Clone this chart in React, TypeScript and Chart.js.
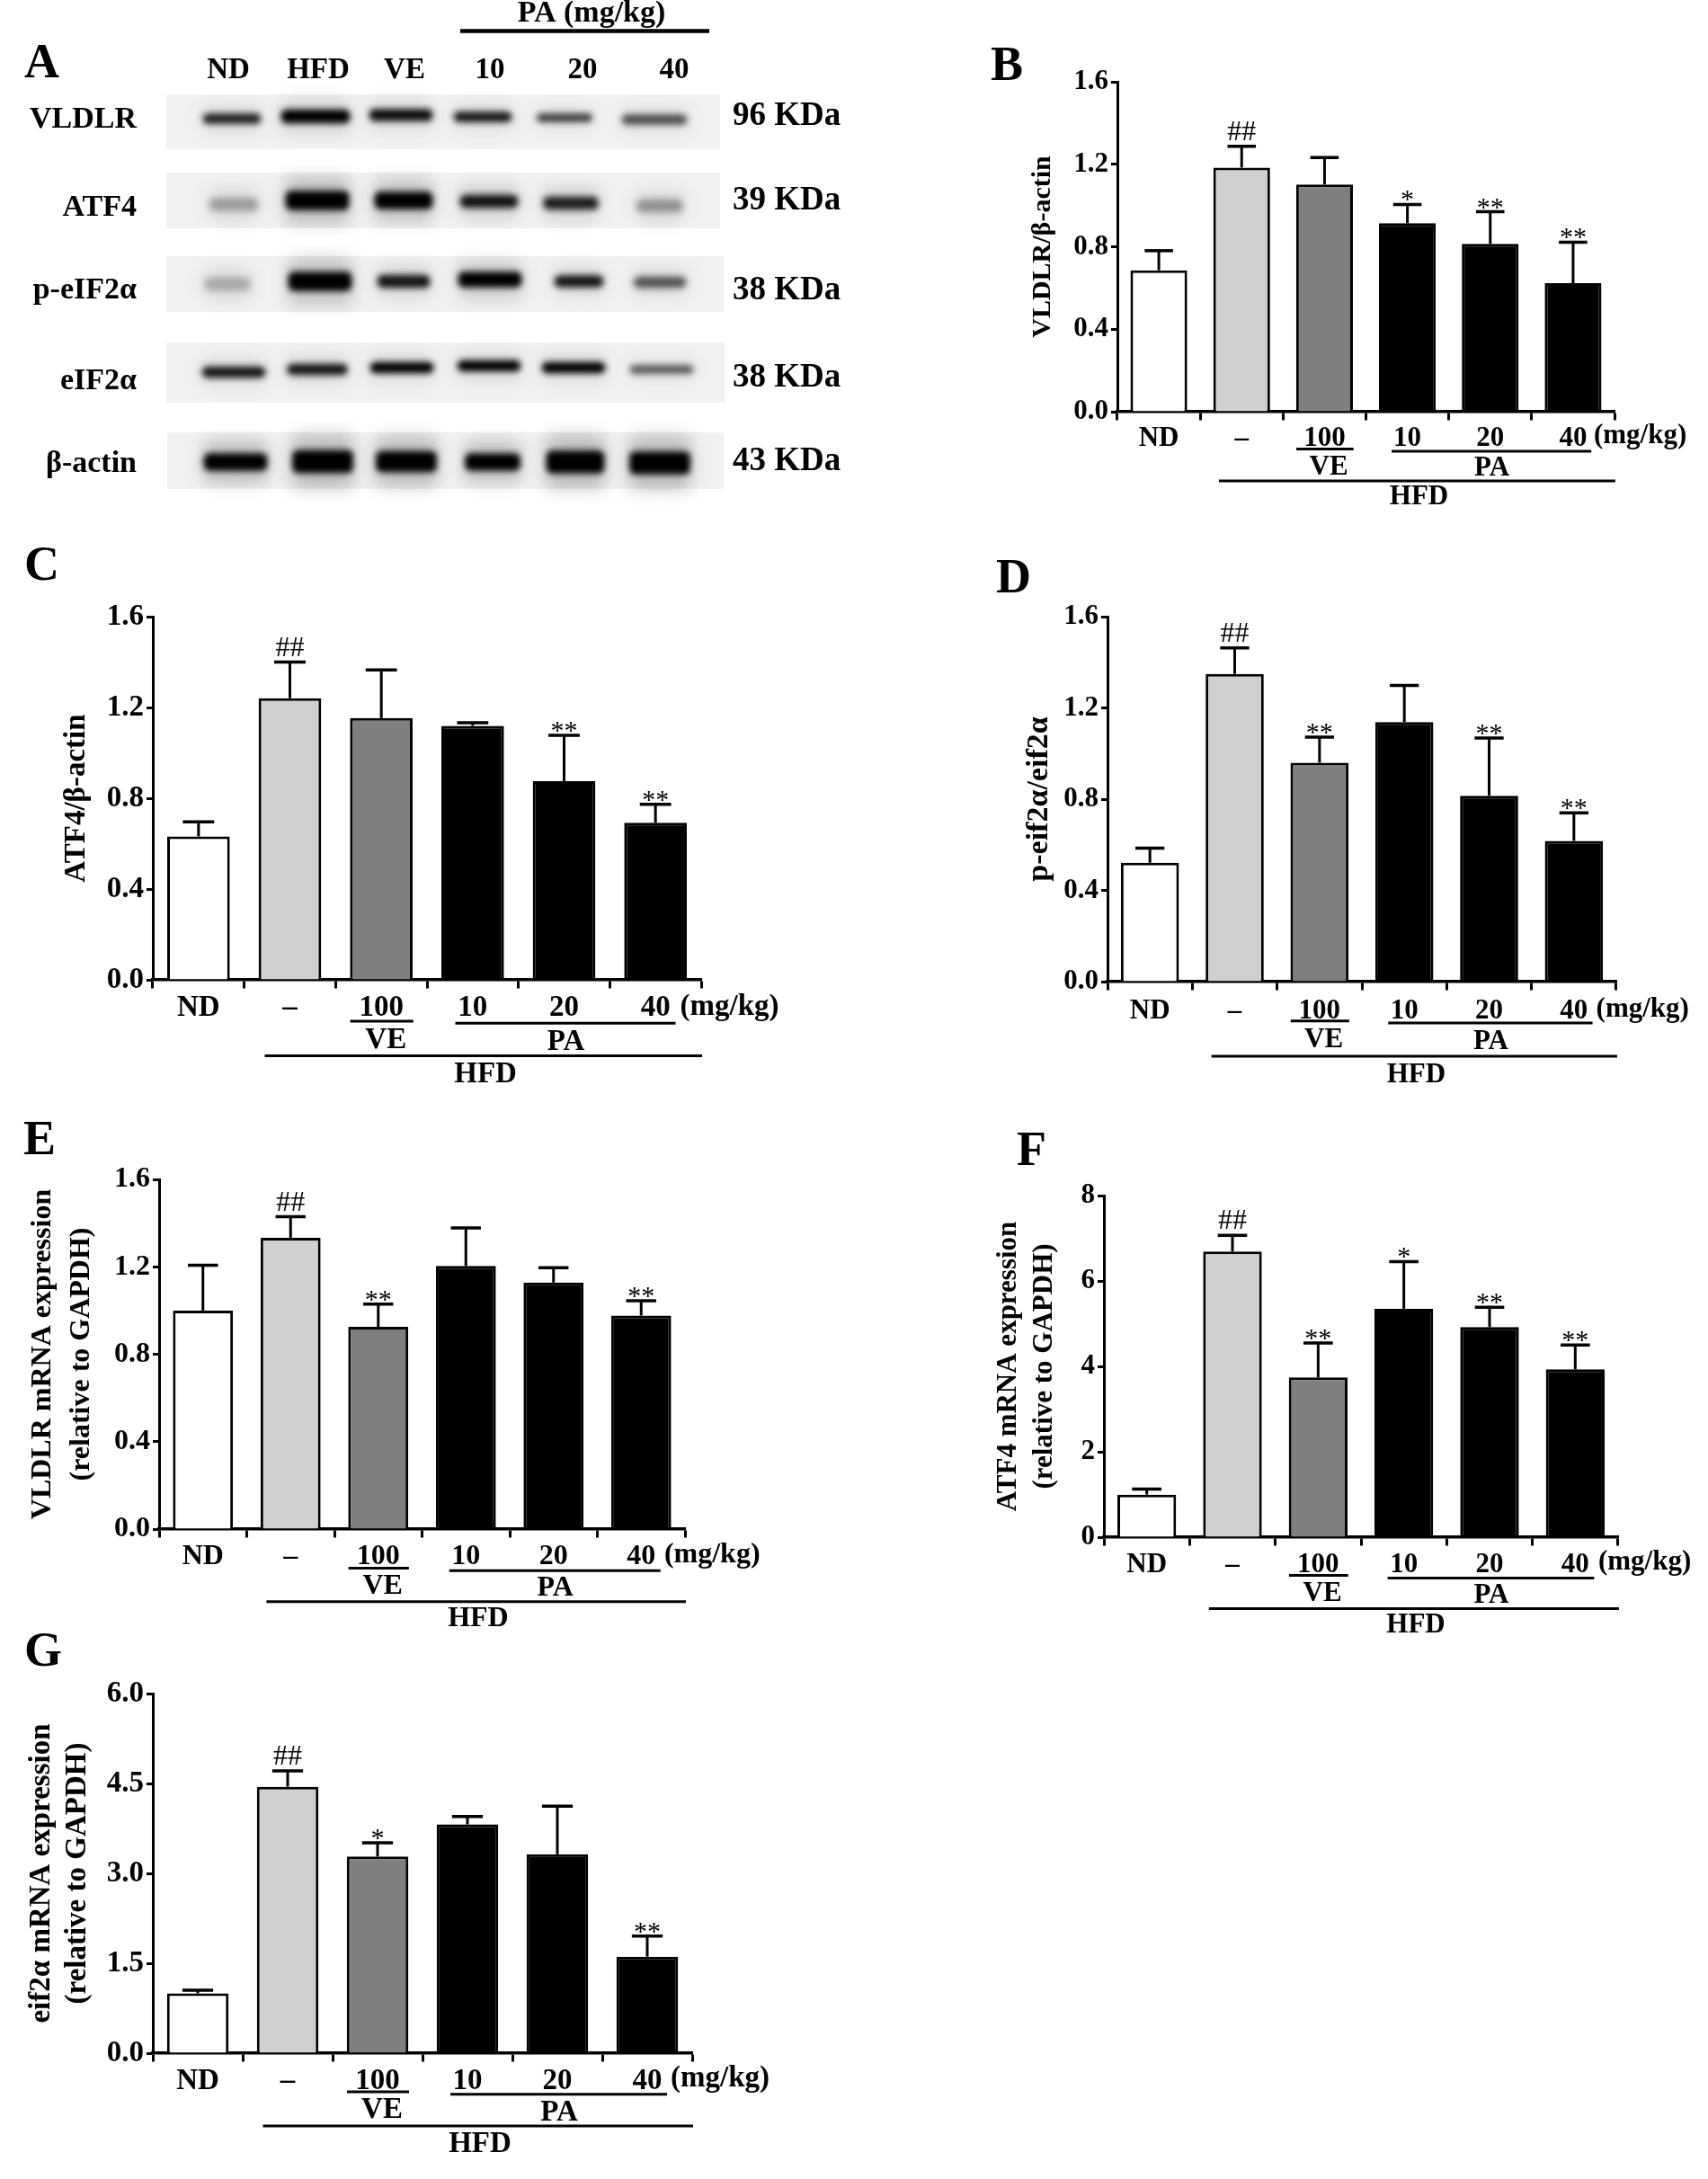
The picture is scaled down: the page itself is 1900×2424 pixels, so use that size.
import React, { useEffect, useRef } from "react";
import { Chart, registerables } from "chart.js";

Chart.register(...registerables);

const SERIF = '"Liberation Serif", "Times New Roman", serif';

// ---------- shared categories ----------
const groupLabels = ["ND", "–", "100", "10", "20", "40"];
const barFills = ["#ffffff", "#d0d0d0", "#7f7f7f", "#000000", "#000000", "#000000"];

// ---------- bar panels: means and upper error-bar ends ----------
const vldlrProtein = [0.686, 1.184, 1.102, 0.914, 0.814, 0.623];
const vldlrProteinTop = [0.781, 1.287, 1.233, 1.005, 0.97, 0.822];
const vldlrProteinSig = ["", "##", "", "*", "**", "**"];

const atf4Protein = [0.632, 1.241, 1.153, 1.119, 0.875, 0.692];
const atf4ProteinTop = [0.696, 1.4, 1.365, 1.133, 1.077, 0.773];
const atf4ProteinSig = ["", "##", "", "", "**", "**"];

const peif2Ratio = [0.521, 1.349, 0.96, 1.138, 0.815, 0.617];
const peif2RatioTop = [0.585, 1.463, 1.072, 1.299, 1.068, 0.74];
const peif2RatioSig = ["", "##", "**", "", "**", "**"];

const vldlrMrna = [1.0, 1.333, 0.925, 1.204, 1.128, 0.977];
const vldlrMrnaTop = [1.207, 1.429, 1.029, 1.378, 1.196, 1.045];
const vldlrMrnaSig = ["", "##", "**", "", "", "**"];

const atf4Mrna = [0.997, 6.69, 3.74, 5.35, 4.92, 3.93];
const atf4MrnaTop = [1.125, 7.07, 4.55, 6.455, 5.385, 4.5];
const atf4MrnaSig = ["", "##", "**", "*", "**", "**"];

const eif2Mrna = [0.998, 4.445, 3.28, 3.817, 3.318, 1.609];
const eif2MrnaTop = [1.051, 4.71, 3.51, 3.95, 4.122, 1.955];
const eif2MrnaSig = ["", "##", "*", "", "", "**"];

// ---------- blot panel: band centre x, centre y, width, height, darkness ----------
const blotRows = ["VLDLR", "ATF4", "p-eIF2α", "eIF2α", "β-actin"];
const blotWeights = ["96 KDa", "39 KDa", "38 KDa", "38 KDa", "43 KDa"];
const blotLanes = ["ND", "HFD", "VE", "10", "20", "40"];
const blotLaneX = [254, 354, 450, 545, 648, 750];
const blotRowBaseline = [142, 240, 332, 433, 525];
const blotWeightBaseline = [139, 233, 333, 430, 523];
const bandX = [
  [258, 351, 446, 537, 628, 728],
  [260, 353, 449, 544, 635, 734],
  [253, 356, 449, 545, 644, 734],
  [260, 353, 447, 544, 638, 736],
  [262, 359, 452, 548, 640, 734],
];
const bandY = [
  [132, 129.5, 128, 130, 131, 133],
  [227.5, 223, 223, 224, 226, 229],
  [316, 313, 313, 311, 313, 314],
  [414, 411, 409, 407, 409, 411],
  [514, 513.5, 513.5, 514, 514, 515],
];
const bandW = [
  [64, 76, 70, 64, 61, 72],
  [54, 70, 64, 64, 61, 51],
  [51, 70, 58, 70, 54, 58],
  [70, 67, 70, 70, 70, 70],
  [70, 67, 67, 61, 64, 67],
];
const bandH = [
  [11, 15, 13, 11, 9, 11],
  [14, 21, 19, 14, 14, 14],
  [14, 21, 14, 17, 13, 12],
  [12, 12, 12, 12, 12, 9],
  [19, 25, 23, 19, 25, 25],
];
const bandDark = [
  [0.85, 1, 0.95, 0.9, 0.75, 0.65],
  [0.28, 1, 1, 0.9, 0.85, 0.32],
  [0.22, 1, 0.9, 1, 0.9, 0.62],
  [0.9, 0.9, 1, 1, 1, 0.62],
  [1, 1, 1, 1, 1, 1],
];
const bandHalo = [
  [0.1, 0.12, 0.1, 0.1, 0.08, 0.08],
  [0.1, 0.22, 0.2, 0.16, 0.14, 0.1],
  [0.1, 0.2, 0.12, 0.16, 0.1, 0.1],
  [0.1, 0.1, 0.1, 0.1, 0.1, 0.08],
  [0.22, 0.22, 0.22, 0.2, 0.22, 0.22],
];
const membranes = [
  [185, 801, 105, 166],
  [185, 801, 192, 254],
  [185, 805, 285, 347],
  [185, 806, 381, 448],
  [186, 805, 481, 544],
];

// ---------- bracket positions, in units of the category axis ----------
const veBracket = [1.66, 2.35];
const paBracket = [2.81, 5.22];
const hfdBracket = [0.725, 5.51];

interface PanelCfg {
  letter: string;
  letterPos: [number, number];
  box: [number, number, number, number];
  area: [number, number, number, number];
  values: number[];
  tops: number[];
  sig: string[];
  maxY: number;
  stepY: number;
  decimals: number;
  title: string | string[];
  titleX: number;
  titleSize: number;
  titleLine: number;
  fontSize: number;
  tickPad: number;
  // line offsets VE,PA,HFD then text offsets VE,PA,HFD,mg/kg below the axis
  offs: number[];
}

const panels: PanelCfg[] = [
  {
    letter: "B", letterPos: [1102, 89], box: [1090, 0, 810, 590], area: [1243, 91, 1796, 458],
    values: vldlrProtein, tops: vldlrProteinTop, sig: vldlrProteinSig,
    maxY: 1.6, stepY: 0.4, decimals: 1, title: "VLDLR/β-actin", titleX: 1160, titleSize: 30, titleLine: 36,
    fontSize: 31, tickPad: 2, offs: [41.6, 44, 77, 62, 63, 95, 27],
  },
  {
    letter: "C", letterPos: [27, 645], box: [0, 590, 1090, 640], area: [170, 686, 780, 1090],
    values: atf4Protein, tops: atf4ProteinTop, sig: atf4ProteinSig,
    maxY: 1.6, stepY: 0.4, decimals: 1, title: "ATF4/β-actin", titleX: 85, titleSize: 33, titleLine: 40,
    fontSize: 33, tickPad: 2, offs: [45.9, 48.2, 84.6, 67, 69, 105, 30],
  },
  {
    letter: "D", letterPos: [1108, 659], box: [1090, 600, 810, 640], area: [1232, 686, 1798, 1092],
    values: peif2Ratio, tops: peif2RatioTop, sig: peif2RatioSig,
    maxY: 1.6, stepY: 0.4, decimals: 1, title: "p-eif2α/eif2α", titleX: 1156, titleSize: 34, titleLine: 40,
    fontSize: 31, tickPad: 5, offs: [43.7, 46, 82.9, 65, 67, 103.7, 31],
  },
  {
    letter: "E", letterPos: [26, 1284], box: [0, 1240, 1090, 590], area: [177, 1312, 762, 1701],
    values: vldlrMrna, tops: vldlrMrnaTop, sig: vldlrMrnaSig,
    maxY: 1.6, stepY: 0.4, decimals: 1, title: ["VLDLR mRNA expression", "(relative to GAPDH)"], titleX: 48, titleSize: 32, titleLine: 43,
    fontSize: 32, tickPad: 2, offs: [43.6, 46.3, 80.8, 64, 65.4, 100, 29],
  },
  {
    letter: "F", letterPos: [1131, 1296], box: [1090, 1240, 810, 600], area: [1228, 1330, 1800, 1710],
    values: atf4Mrna, tops: atf4MrnaTop, sig: atf4MrnaSig,
    maxY: 8, stepY: 2, decimals: 0, title: ["ATF4 mRNA expression", "(relative to GAPDH)"], titleX: 1122, titleSize: 31, titleLine: 40,
    fontSize: 31, tickPad: 3, offs: [42.5, 45.5, 79.6, 63, 64.7, 98, 28],
  },
  {
    letter: "G", letterPos: [27, 1853], box: [0, 1800, 1090, 624], area: [170, 1884, 770, 2284],
    values: eif2Mrna, tops: eif2MrnaTop, sig: eif2MrnaSig,
    maxY: 6, stepY: 1.5, decimals: 1, title: ["eif2α mRNA expression", "(relative to GAPDH)"], titleX: 46, titleSize: 33, titleLine: 40,
    fontSize: 33, tickPad: 2, offs: [43, 45.8, 81, 63.4, 66.6, 101.8, 28.6],
  },
];

function makeBarChart(canvas: HTMLCanvasElement, p: PanelCfg) {
  const [bx, by, bw, bh] = p.box;
  const [al, at, ar, ab] = p.area;
  const padLeft = p.titleX - p.titleLine / 2 - bx;
  const annotate = {
    id: "annotate",
    afterDatasetsDraw(chart: any) {
      const { ctx, scales } = chart;
      const xs = scales.x;
      const ys = scales.y;
      const zero = ys.getPixelForValue(0);
      const bold = `bold ${p.fontSize}px ${SERIF}`;
      const barW = chart.getDatasetMeta(0).data[0].width;
      ctx.save();
      ctx.strokeStyle = "#000";
      ctx.fillStyle = "#000";
      // error bars and significance marks
      p.values.forEach((v, i) => {
        const x = xs.getPixelForValue(i);
        const yTop = ys.getPixelForValue(p.tops[i]);
        ctx.lineWidth = 3;
        ctx.beginPath();
        ctx.moveTo(x, ys.getPixelForValue(v));
        ctx.lineTo(x, yTop);
        ctx.stroke();
        ctx.lineWidth = 3.5;
        ctx.beginPath();
        ctx.moveTo(x - barW * 0.25, yTop);
        ctx.lineTo(x + barW * 0.25, yTop);
        ctx.stroke();
        const s = p.sig[i];
        if (s) {
          ctx.textAlign = "center";
          ctx.textBaseline = "alphabetic";
          ctx.font = `${s[0] === "#" ? 32 : 30}px ${SERIF}`;
          ctx.fillText(s, x, s[0] === "#" ? yTop - 7 : yTop + 4);
        }
      });
      // brackets
      const rule = (range: number[], off: number, w: number) => {
        ctx.lineWidth = w;
        ctx.beginPath();
        ctx.moveTo(xs.getPixelForValue(range[0]), zero + off);
        ctx.lineTo(xs.getPixelForValue(range[1]), zero + off);
        ctx.stroke();
      };
      rule(veBracket, p.offs[0], 3);
      rule(paBracket, p.offs[1], 3);
      rule(hfdBracket, p.offs[2], 3);
      // group labels
      ctx.font = bold;
      ctx.textAlign = "center";
      ctx.textBaseline = "middle";
      ctx.fillText("VE", xs.getPixelForValue(2.05), zero + p.offs[3]);
      ctx.fillText("PA", xs.getPixelForValue(4.02), zero + p.offs[4]);
      ctx.fillText("HFD", xs.getPixelForValue(3.14), zero + p.offs[5]);
      ctx.fillText("(mg/kg)", xs.getPixelForValue(5.81), zero + p.offs[6]);
      // panel letter
      ctx.font = `bold 54px ${SERIF}`;
      ctx.textAlign = "left";
      ctx.textBaseline = "alphabetic";
      ctx.fillText(p.letter, p.letterPos[0] - bx, p.letterPos[1] - by);
      ctx.restore();
    },
  };
  return new Chart(canvas, {
    type: "bar",
    data: {
      labels: groupLabels,
      datasets: [
        {
          data: p.values,
          backgroundColor: barFills,
          borderColor: "#000",
          borderWidth: 3,
          borderSkipped: "start",
          categoryPercentage: 1,
          barPercentage: 0.685,
        },
      ],
    },
    options: {
      animation: false,
      responsive: false,
      devicePixelRatio: 1,
      layout: { padding: { left: padLeft, top: at - by, right: bx + bw - ar, bottom: 0 } },
      plugins: { legend: { display: false }, tooltip: { enabled: false } },
      scales: {
        x: {
          grid: { display: true, drawOnChartArea: false, tickLength: 9.5, tickColor: "#000", tickWidth: 3 },
          border: { color: "#000", width: 3.5 },
          ticks: { color: "#000", font: { family: SERIF, size: p.fontSize, weight: "bold" }, padding: p.tickPad, maxRotation: 0, autoSkip: false },
          afterFit: (axis: any) => {
            axis.height = by + bh - ab;
          },
        },
        y: {
          min: 0,
          max: p.maxY,
          grid: { display: true, drawOnChartArea: false, tickLength: 7, tickColor: "#000", tickWidth: 3 },
          border: { color: "#000", width: 3 },
          ticks: {
            stepSize: p.stepY,
            color: "#000",
            padding: 3,
            font: { family: SERIF, size: p.fontSize, weight: "bold" },
            callback: (v: any) => Number(v).toFixed(p.decimals),
          },
          title: {
            display: true,
            text: p.title,
            color: "#000",
            padding: 0,
            font: { family: SERIF, size: p.titleSize, weight: "bold", lineHeight: p.titleLine / p.titleSize },
          },
          afterFit: (axis: any) => {
            axis.width = al - bx - padLeft;
          },
        },
      },
    } as any,
    plugins: [annotate],
  } as any);
}

function makeBlotChart(canvas: HTMLCanvasElement) {
  const datasets: any[] = [];
  blotRows.forEach((_, r) => {
    bandX[r].forEach((x, l) => {
      const cy = bandY[r][l];
      const h = bandH[r][l];
      // soft smear round the band (even dataset index), then the band itself (odd index)
      datasets.push({
        data: [{ x, y: [cy - h * 1.2, cy + h * 1.2] }],
        barThickness: bandW[r][l] * 1.02,
        grouped: false,
        backgroundColor: `rgba(0,0,0,${bandHalo[r][l]})`,
        borderWidth: 0,
        borderRadius: 8,
        borderSkipped: false,
      });
      datasets.push({
        data: [{ x, y: [cy - h / 2, cy + h / 2] }],
        barThickness: bandW[r][l],
        grouped: false,
        backgroundColor: `rgba(0,0,0,${bandDark[r][l]})`,
        borderWidth: 0,
        borderRadius: 6,
        borderSkipped: false,
      });
    });
  });
  const blot = {
    id: "blot",
    beforeDatasetsDraw(chart: any) {
      const { ctx, scales } = chart;
      ctx.save();
      ctx.fillStyle = "#f1f1f1";
      membranes.forEach((m) => {
        const x0 = scales.x.getPixelForValue(m[0]);
        const x1 = scales.x.getPixelForValue(m[1]);
        const y0 = scales.y.getPixelForValue(m[2]);
        const y1 = scales.y.getPixelForValue(m[3]);
        ctx.fillRect(x0, y0, x1 - x0, y1 - y0);
      });
      ctx.restore();
      ctx.save();
    },
    beforeDatasetDraw(chart: any, args: any) {
      chart.ctx.filter = args.index % 2 ? "blur(3.5px)" : "blur(9px)";
    },
    afterDatasetsDraw(chart: any) {
      const { ctx, scales } = chart;
      ctx.restore();
      ctx.save();
      ctx.fillStyle = "#000";
      ctx.strokeStyle = "#000";
      const bold = (s: number) => `bold ${s}px ${SERIF}`;
      ctx.textBaseline = "alphabetic";
      ctx.textAlign = "center";
      ctx.font = bold(33);
      blotLanes.forEach((t, i) => ctx.fillText(t, scales.x.getPixelForValue(blotLaneX[i]), scales.y.getPixelForValue(87)));
      ctx.font = bold(34);
      ctx.fillText("PA (mg/kg)", scales.x.getPixelForValue(658), scales.y.getPixelForValue(24));
      ctx.lineWidth = 4.5;
      ctx.beginPath();
      ctx.moveTo(scales.x.getPixelForValue(512), scales.y.getPixelForValue(34.5));
      ctx.lineTo(scales.x.getPixelForValue(789), scales.y.getPixelForValue(34.5));
      ctx.stroke();
      ctx.textAlign = "right";
      blotRows.forEach((t, i) => ctx.fillText(t, scales.x.getPixelForValue(152), scales.y.getPixelForValue(blotRowBaseline[i])));
      ctx.textAlign = "left";
      ctx.font = bold(37);
      blotWeights.forEach((t, i) => ctx.fillText(t, scales.x.getPixelForValue(815), scales.y.getPixelForValue(blotWeightBaseline[i])));
      ctx.font = bold(54);
      ctx.fillText("A", scales.x.getPixelForValue(27), scales.y.getPixelForValue(86));
      ctx.restore();
    },
  };
  return new Chart(canvas, {
    type: "bar",
    data: { datasets },
    options: {
      animation: false,
      responsive: false,
      devicePixelRatio: 1,
      layout: { padding: 0 },
      plugins: { legend: { display: false }, tooltip: { enabled: false } },
      scales: {
        x: { type: "linear", min: 0, max: 1000, offset: false, display: false },
        y: { type: "linear", min: 0, max: 580, reverse: true, display: false },
      },
    } as any,
    plugins: [blot],
  } as any);
}

function Canvas({ box, make }: { box: number[]; make: (c: HTMLCanvasElement) => any }) {
  const ref = useRef<HTMLCanvasElement>(null);
  useEffect(() => {
    const chart = make(ref.current as HTMLCanvasElement);
    return () => chart.destroy();
  }, []);
  return (
    <canvas
      ref={ref}
      width={box[2]}
      height={box[3]}
      style={{ position: "absolute", left: box[0], top: box[1], width: box[2], height: box[3], display: "block" }}
    />
  );
}

export default function App() {
  return (
    <div>
      <Canvas box={[0, 0, 1000, 580]} make={makeBlotChart} />
      {panels.map((p) => (
        <Canvas key={p.letter} box={p.box} make={(c) => makeBarChart(c, p)} />
      ))}
    </div>
  );
}
